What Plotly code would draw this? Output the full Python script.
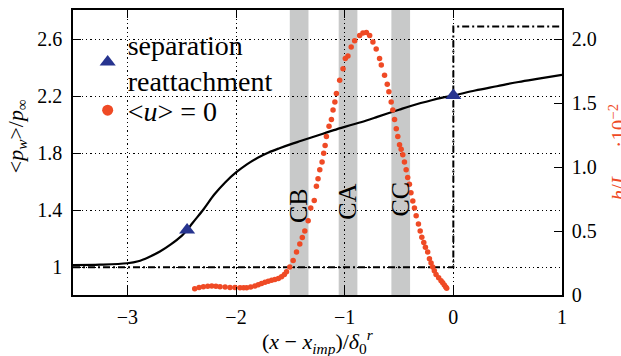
import plotly.graph_objects as go

# ---------------- data ----------------
# wall pressure <p_w>/p_inf (left axis)
pw_x = [-3.5, -3.25, -3.0, -2.9, -2.8, -2.7, -2.6, -2.5, -2.45, -2.4, -2.3, -2.2,
        -2.1, -2.0, -1.9, -1.8, -1.7, -1.6, -1.5, -1.4, -1.3, -1.2, -1.1, -1.0,
        -0.9, -0.8, -0.7, -0.6, -0.5, -0.4, -0.3, -0.2, -0.1, 0.0, 0.2, 0.4,
        0.6, 0.8, 1.0]
pw_y = [1.015, 1.018, 1.028, 1.042, 1.072, 1.11, 1.16, 1.22, 1.26, 1.31, 1.405, 1.51,
        1.595, 1.665, 1.722, 1.768, 1.805, 1.835, 1.862, 1.887, 1.912, 1.937, 1.962, 1.985,
        2.007, 2.03, 2.055, 2.08, 2.105, 2.13, 2.152, 2.172, 2.19, 2.205, 2.24, 2.27,
        2.3, 2.325, 2.35]

# inviscid reference (dash-dot step)
inv_x = [-3.5, 0.0, 0.0, 1.0]
inv_y = [1.0, 1.0, 2.69, 2.69]

# separation / reattachment points
sep_x = [-2.45, 0.0]
sep_y = [1.262, 2.205]

# <u> = 0 height h/L_sep *1e-2 (right axis)
u0_x = [-2.38, -2.34, -2.30, -2.26, -2.223, -2.185, -2.147, -2.10, -2.055, -2.01, -1.963,
        -1.93, -1.902, -1.865, -1.826, -1.795, -1.765, -1.733, -1.703, -1.672, -1.642,
        -1.61, -1.581, -1.555, -1.535, -1.505, -1.474, -1.443, -1.413, -1.39, -1.367,
        -1.336, -1.312, -1.28, -1.26, -1.245, -1.229, -1.208, -1.193, -1.18, -1.168,
        -1.144, -1.122, -1.107, -1.09, -1.076, -1.046, -1.015, -0.994, -0.97, -0.94,
        -0.908, -0.862, -0.832, -0.80, -0.77, -0.74, -0.71, -0.679, -0.663, -0.633,
        -0.608, -0.593, -0.572, -0.557, -0.541, -0.525, -0.511, -0.495, -0.48, -0.465,
        -0.45, -0.434, -0.42, -0.404, -0.39, -0.373, -0.358, -0.342, -0.321, -0.305,
        -0.29, -0.272, -0.257, -0.236, -0.22, -0.205, -0.19, -0.175, -0.159, -0.135,
        -0.113, -0.098, -0.083, -0.07, -0.061]
u0_y = [0.049, 0.058, 0.065, 0.068, 0.070, 0.068, 0.065, 0.062, 0.059, 0.058, 0.057,
        0.057, 0.057, 0.062, 0.070, 0.08, 0.09, 0.10, 0.108, 0.115, 0.121,
        0.13, 0.142, 0.16, 0.181, 0.22, 0.27, 0.336, 0.40, 0.45, 0.50,
        0.58, 0.68, 0.74, 0.85, 0.91, 0.98, 1.04, 1.11, 1.17, 1.24,
        1.32, 1.374, 1.447, 1.51, 1.576, 1.68, 1.77, 1.85, 1.87, 1.94,
        1.99, 2.03, 2.05, 2.054, 2.03, 1.98, 1.925, 1.85, 1.80, 1.72,
        1.65, 1.59, 1.51, 1.447, 1.374, 1.30, 1.24, 1.176, 1.14, 1.098,
        1.04, 0.98, 0.92, 0.866, 0.80, 0.736, 0.68, 0.62, 0.556, 0.50,
        0.452, 0.41, 0.374, 0.336, 0.284, 0.25, 0.22, 0.19, 0.16, 0.135,
        0.111, 0.095, 0.078, 0.062, 0.052]

# probe regions (gray bands)
band_names = ["CB", "CA", "CC"]
band_x0 = [-1.505, -1.055, -0.57]
band_x1 = [-1.333, -0.883, -0.398]
band_label_y = [1.43, 1.46, 1.48]

x_ticks = [-3, -2, -1, 0, 1]
x_ticktext = ["\u22123", "\u22122", "\u22121", "0", "1"]
y_ticks = [1.0, 1.4, 1.8, 2.2, 2.6]
y_ticktext = ["1", "1.4", "1.8", "2.2", "2.6"]
y2_ticks = [0, 0.5, 1.0, 1.5, 2.0]
y2_ticktext = ["0", "0.5", "1.0", "1.5", "2.0"]

# ---------------- styles ----------------
FONT = "Liberation Serif, serif"
BLUE = "#27348f"
RED = "#ef4a25"
GRAY = "#c8c9c9"

fig = go.Figure()

# inviscid step
fig.add_trace(go.Scatter(x=inv_x, y=inv_y, mode="lines",
                         line=dict(color="black", width=2, dash="7px,3px,2px,3px"),
                         showlegend=False, hoverinfo="skip"))
# pressure curve
fig.add_trace(go.Scatter(x=pw_x, y=pw_y, mode="lines",
                         line=dict(color="black", width=2.2, shape="spline", smoothing=1),
                         showlegend=False))
# <u>=0 dots
fig.add_trace(go.Scatter(x=u0_x, y=u0_y, mode="markers", yaxis="y2",
                         marker=dict(color=RED, size=5.5, line=dict(width=0)),
                         showlegend=False))
# sep/reattachment
fig.add_trace(go.Scatter(x=sep_x, y=sep_y, mode="markers",
                         marker=dict(symbol="triangle-up", color=BLUE, size=14, line=dict(width=0)),
                         showlegend=False))

# legend-only entries
fig.add_trace(go.Scatter(x=[None], y=[None], mode="markers", name="separation<br>reattachment",
                         legend="legend",
                         marker=dict(symbol="triangle-up", color=BLUE, size=14, line=dict(width=0))))
fig.add_trace(go.Scatter(x=[None], y=[None], mode="markers", name="&lt;<i>u</i>&gt; = 0",
                         legend="legend2",
                         marker=dict(color=RED, size=11, line=dict(width=0))))

shapes = []
annotations = []
for name, a, b, ly in zip(band_names, band_x0, band_x1, band_label_y):
    shapes.append(dict(type="rect", xref="x", yref="paper", x0=a, x1=b, y0=0, y1=1,
                       fillcolor=GRAY, line=dict(width=0), layer="below"))
    annotations.append(dict(x=(a + b) / 2, y=ly, xref="x", yref="y", text=name,
                            textangle=-90, showarrow=False, xanchor="center", yanchor="middle",
                            font=dict(family=FONT, size=26, color="black")))

# axis titles as annotations
annotations.append(dict(xref="paper", yref="paper", x=0, y=0.557, xshift=-56,
                        text="&lt;<i>p<sub>w</sub></i>&gt;/<i>p</i><sub>∞</sub>",
                        textangle=-90, showarrow=False, xanchor="center", yanchor="middle",
                        font=dict(family=FONT, size=22, color="black")))
annotations.append(dict(xref="paper", yref="paper", x=0.5, y=0, yshift=-46,
                        text="(<i>x</i> − <i>x<sub>imp</sub></i>)/<i>δ</i><sub>0</sub><sup><i>r</i></sup>",
                        showarrow=False, xanchor="center", yanchor="middle",
                        font=dict(family=FONT, size=22, color="black")))
annotations.append(dict(xref="paper", yref="paper", x=1, y=0.5, xshift=57,
                        text="<i>h</i>/<i>L<sub>sep</sub></i> ·10<sup>−2</sup>",
                        textangle=-90, showarrow=False, xanchor="center", yanchor="middle",
                        font=dict(family=FONT, size=21, color=RED)))

grid_dash = "1.3px,3px"
legend_common = dict(x=0.03, xanchor="left", yanchor="top", bgcolor="rgba(0,0,0,0)",
                     font=dict(family=FONT, size=28, color="black"), tracegroupgap=0,
                     itemwidth=30)
fig.update_layout(
    width=621, height=356,
    margin=dict(l=73, r=59, t=8, b=61),
    plot_bgcolor="white", paper_bgcolor="white",
    font=dict(family=FONT, size=20, color="black"),
    shapes=shapes, annotations=annotations,
    showlegend=True,
    legend=dict(y=0.968, **legend_common),
    legend2=dict(y=0.735, **legend_common),
    xaxis=dict(range=[-3.5, 1], tickvals=x_ticks, ticktext=x_ticktext,
               showline=True, linecolor="black", linewidth=1.6, mirror="ticks",
               ticks="inside", ticklen=8, tickwidth=1.3, tickcolor="black",
               showgrid=True, gridcolor="black", gridwidth=1.3, griddash=grid_dash,
               zeroline=False, ticklabelstandoff=3,
               tickfont=dict(family=FONT, size=20)),
    yaxis=dict(range=[0.805, 2.805], tickvals=y_ticks, ticktext=y_ticktext,
               showline=True, linecolor="black", linewidth=1.6, mirror=True,
               ticks="inside", ticklen=8, tickwidth=1.3, tickcolor="black",
               showgrid=True, gridcolor="black", gridwidth=1.3, griddash=grid_dash,
               zeroline=False, ticklabelstandoff=5,
               tickfont=dict(family=FONT, size=20)),
    yaxis2=dict(range=[0, 2.23], tickvals=y2_ticks, ticktext=y2_ticktext,
                overlaying="y", side="right", showgrid=False, zeroline=False,
                showline=True, linecolor="black", linewidth=1.6,
                ticks="inside", ticklen=8, tickwidth=1.3, tickcolor="black",
                ticklabelstandoff=4, tickfont=dict(family=FONT, size=20)),
)

fig.write_html("out.html")
